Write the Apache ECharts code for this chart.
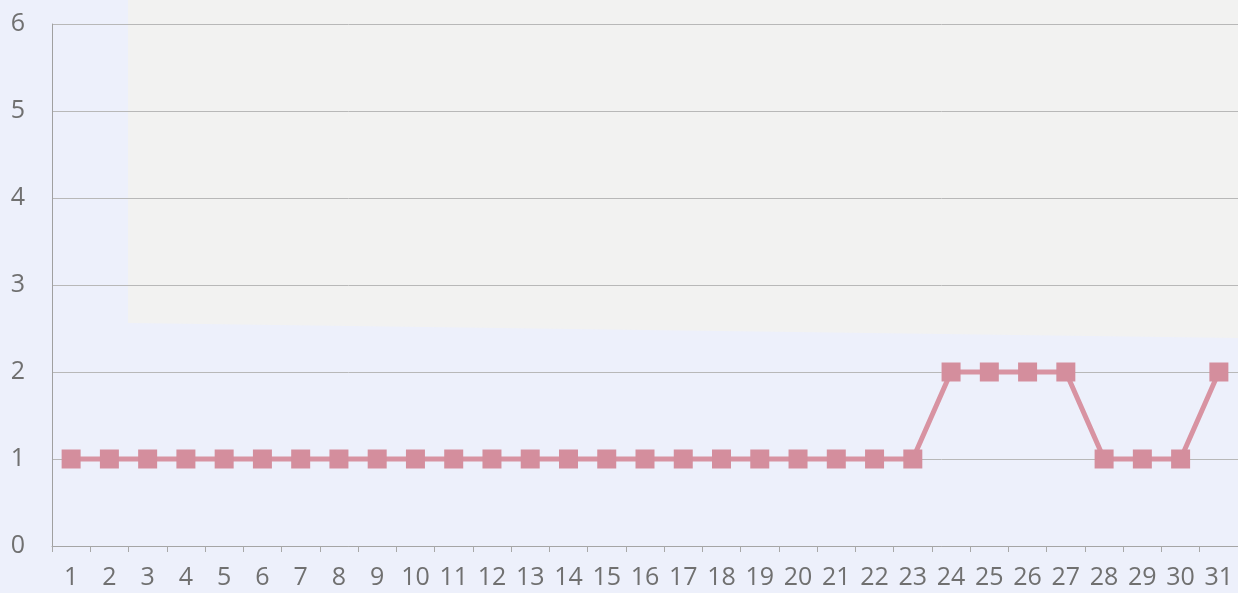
<!DOCTYPE html>
<html>
<head>
<meta charset="utf-8">
<script src="https://cdn.jsdelivr.net/npm/echarts@6/dist/echarts.min.js"></script>
<style>
    html, body { margin: 0; padding: 0; background: #edf0fb; }
    #chart { width: 1238px; height: 593px; }
</style>
</head>
<body>
<div id="chart"></div>
<script>
// days of the month
const days = ['1', '2', '3', '4', '5', '6', '7', '8', '9', '10', '11', '12', '13', '14', '15', '16',
    '17', '18', '19', '20', '21', '22', '23', '24', '25', '26', '27', '28', '29', '30', '31']
const values = [1, 1, 1, 1, 1, 1, 1, 1, 1, 1, 1, 1, 1, 1, 1, 1,
    1, 1, 1, 1, 1, 1, 1, 2, 2, 2, 2, 1, 1, 1, 2]
const yTicks = [0, 1, 2, 3, 4, 5, 6]

const myEcharts = echarts.init(document.getElementById('chart'))
const option = {
    backgroundColor: '#edf0fb',
    animation: false,
    // paler paper patch from the scan
    graphic: [
        {
            type: 'polygon',
            z: -10,
            silent: true,
            shape: { points: [[128, 0], [1238, 0], [1238, 338], [128, 323]] },
            style: { fill: '#f2f2f1' }
        }
    ],
    grid: { left: 52, right: 0, top: 24, bottom: 47 },
    xAxis: {
        type: 'category',
        data: days,
        boundaryGap: true,
        axisLine: { lineStyle: { color: '#a5a5a5', width: 1 } },
        axisTick: { show: true, length: 6, lineStyle: { color: '#a8a8a8' } },
        axisLabel: {
            color: '#707070',
            fontSize: 25,
            fontFamily: 'Open Sans',
            margin: 19,
            interval: 0
        }
    },
    yAxis: {
        type: 'value',
        min: yTicks[0],
        max: yTicks[yTicks.length - 1],
        interval: 1,
        axisLine: { show: true, lineStyle: { color: '#a0a0a0', width: 1 } },
        axisTick: { show: false },
        splitLine: { lineStyle: { color: '#b8b8b8', width: 1 } },
        axisLabel: {
            color: '#707070',
            fontSize: 25,
            fontFamily: 'Open Sans',
            margin: 27
        }
    },
    series: [
        {
            type: 'line',
            data: values,
            symbol: 'rect',
            symbolSize: 19,
            lineStyle: { color: '#d893a2', width: 5 },
            itemStyle: { color: '#d48e9d' }
        }
    ]
}
myEcharts.setOption(option)
</script>
</body>
</html>
